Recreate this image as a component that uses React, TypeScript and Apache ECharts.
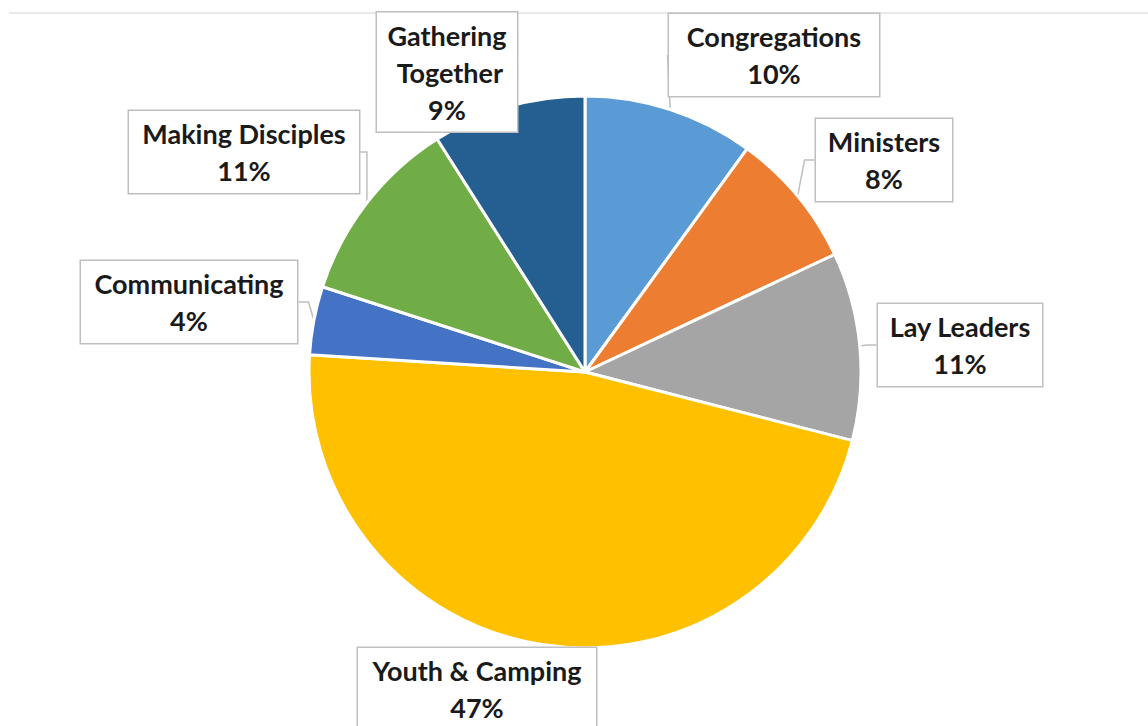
import React, { useEffect, useRef } from "react";
import * as echarts from "echarts";

const categories = [
  "Congregations",
  "Ministers",
  "Lay Leaders",
  "Youth & Camping",
  "Communicating",
  "Making Disciples",
  "Gathering Together",
];
const values = [10, 8, 11, 47, 4, 11, 9];
const colors = ["#5B9BD5", "#ED7D31", "#A5A5A5", "#FFC000", "#4472C4", "#70AD47", "#255E91"];

// label layout (centres of callout boxes, content widths)
const labelCenters: [number, number][] = [
  [774, 55],
  [884, 160],
  [960, 345],
  [477, 689],
  [189, 302],
  [244, 152],
  [447, 72],
];
const labelWidths = [192, 118, 146, 220, 198, 212, 122];
const showPointer = [true, true, true, false, true, true, false];

export default function App() {
  const ref = useRef<HTMLDivElement>(null);
  useEffect(() => {
    if (!ref.current) return;
    const chart = echarts.init(ref.current, undefined, { renderer: "svg" });
    const data = categories.map((name, i) => ({
      name,
      value: values[i],
      itemStyle: { color: colors[i] },
      label: { width: labelWidths[i] },
      labelLine: { show: showPointer[i] },
    }));
    chart.setOption({
      animation: false,
      backgroundColor: "#ffffff",
      graphic: [
        {
          type: "line",
          z: -1,
          shape: { x1: 9, y1: 13, x2: 1148, y2: 13 },
          style: { stroke: "#e2e2e2", lineWidth: 1.5 },
        },
      ],
      series: [
        {
          type: "pie",
          center: [585, 372],
          radius: 276,
          startAngle: 90,
          clockwise: true,
          emphasis: { disabled: true },
          itemStyle: { borderColor: "#ffffff", borderWidth: 3 },
          data,
          label: {
            show: true,
            position: "outside",
            formatter: (p: any) => `${p.name}\n${Math.round(p.percent)}%`,
            fontFamily: "Lato",
            fontWeight: "bold",
            fontSize: 27,
            lineHeight: 37,
            color: "#1a1a1a",
            align: "center",
            overflow: "break",
            backgroundColor: "#ffffff",
            borderColor: "#bfbfbf",
            borderWidth: 1.5,
            padding: [4, 9],
          },
          labelLine: {
            show: true,
            length: 10,
            length2: 10,
            lineStyle: { color: "#bfbfbf", width: 1.5 },
          },
          labelLayout: (params: any) => {
            const c = labelCenters[params.dataIndex];
            return { x: c[0], y: c[1], align: "center", verticalAlign: "middle", hideOverlap: false };
          },
        },
      ],
    });
    return () => chart.dispose();
  }, []);
  return (
    <div
      ref={ref}
      style={{ position: "fixed", left: 0, top: 0, width: 1148, height: 726 }}
    />
  );
}
